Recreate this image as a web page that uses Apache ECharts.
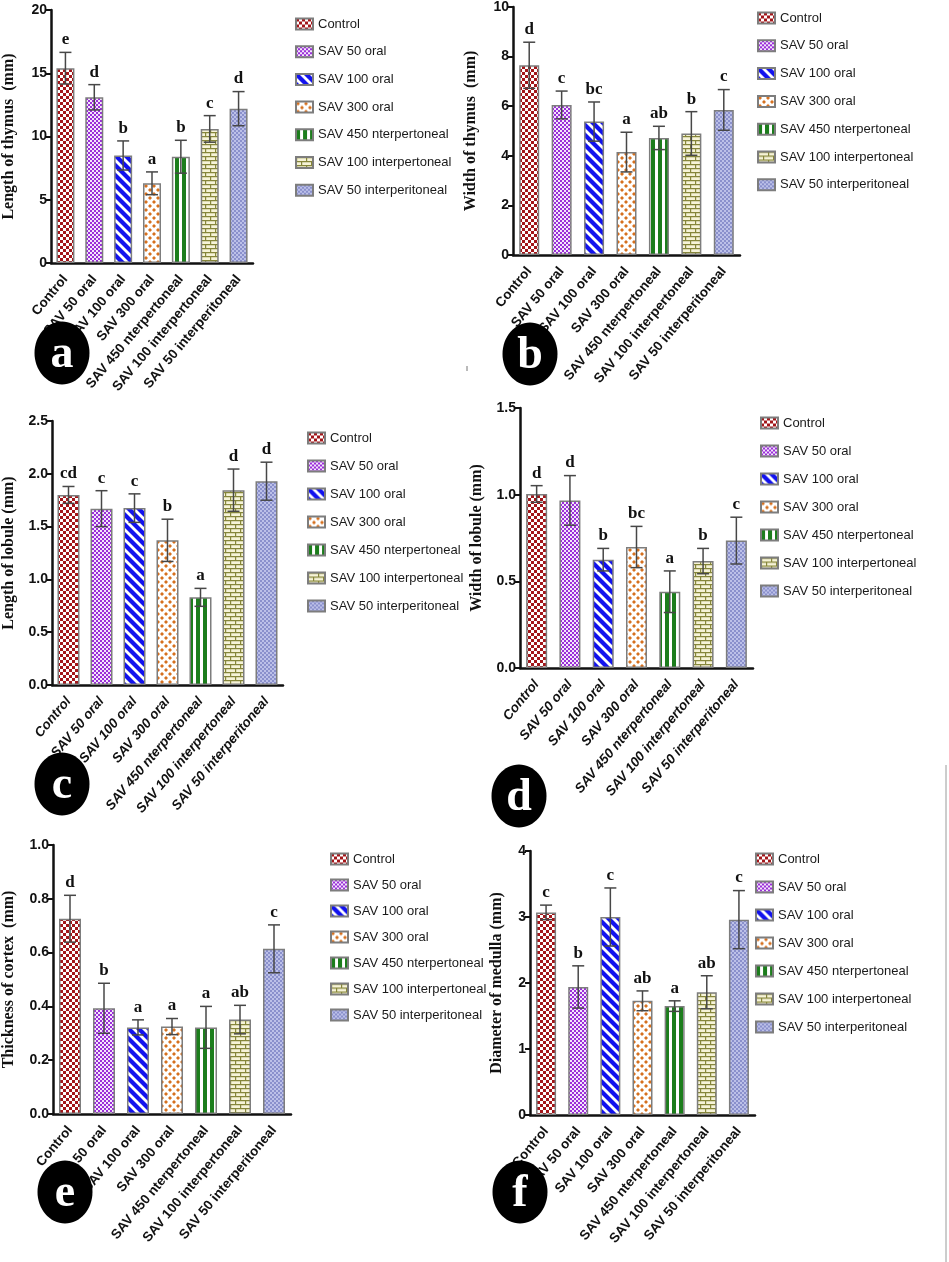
<!DOCTYPE html>
<html><head><meta charset="utf-8">
<script src="https://cdn.jsdelivr.net/npm/echarts@6/dist/echarts.min.js"></script>
<style>html,body{margin:0;padding:0;background:#fff}#c{width:949px;height:1262px}</style>
</head><body><div id="c"></div>
<script>
// ---------- DATA ----------
const groups = ['Control','SAV 50 oral','SAV 100 oral','SAV 300 oral','SAV 450 nterpertoneal','SAV 100 interpertoneal','SAV 50 interperitoneal'];

const lengthThymus        = [15.4, 13.1, 8.5, 6.3, 8.4, 10.6, 12.2];
const lengthThymusErr     = [1.25, 1.0, 1.15, 0.9, 1.3, 1.05, 1.35];
const lengthThymusLetters = ['e','d','b','a','b','c','d'];
const lengthThymusTicks   = [0, 5, 10, 15, 20];

const widthThymus        = [7.65, 6.05, 5.38, 4.15, 4.72, 4.9, 5.85];
const widthThymusErr     = [0.93, 0.56, 0.79, 0.8, 0.47, 0.88, 0.82];
const widthThymusLetters = ['d','c','bc','a','ab','b','c'];
const widthThymusTicks   = [0, 2, 4, 6, 8, 10];

const lengthLobule        = [1.80, 1.67, 1.675, 1.37, 0.83, 1.845, 1.93];
const lengthLobuleErr     = [0.08, 0.17, 0.135, 0.2, 0.085, 0.2, 0.18];
const lengthLobuleLetters = ['cd','c','c','b','a','d','d'];
const lengthLobuleTicks   = [0.0, 0.5, 1.0, 1.5, 2.0, 2.5];

const widthLobule        = [1.004, 0.967, 0.625, 0.698, 0.44, 0.617, 0.735];
const widthLobuleErr     = [0.048, 0.143, 0.065, 0.119, 0.12, 0.073, 0.135];
const widthLobuleLetters = ['d','d','b','bc','a','b','c'];
const widthLobuleTicks   = [0.0, 0.5, 1.0, 1.5];

const cortex        = [0.726, 0.393, 0.322, 0.325, 0.322, 0.351, 0.614];
const cortexErr     = [0.087, 0.093, 0.028, 0.03, 0.078, 0.053, 0.089];
const cortexLetters = ['d','b','a','a','a','ab','c'];
const cortexTicks   = [0.0, 0.2, 0.4, 0.6, 0.8, 1.0];

const medulla        = [3.07, 1.94, 3.0, 1.73, 1.65, 1.86, 2.96];
const medullaErr     = [0.11, 0.32, 0.44, 0.15, 0.08, 0.25, 0.44];
const medullaLetters = ['c','b','c','ab','a','ab','c'];
const medullaTicks   = [0, 1, 2, 3, 4];

// ---------- PATTERNS ----------
function tile(w, h, draw) {
  const c = document.createElement('canvas'); c.width = w; c.height = h;
  const g = c.getContext('2d'); draw(g, w, h); return c;
}
const patterns = [
  tile(6, 6, g => { g.fillStyle = '#fff'; g.fillRect(0,0,6,6); g.fillStyle = '#a3161a'; g.fillRect(0,0,3,3); g.fillRect(3,3,3,3); }),
  tile(4, 4, g => { g.fillStyle = '#f4e6fb'; g.fillRect(0,0,4,4); g.fillStyle = '#9a2fd8'; g.fillRect(0,0,2,2); g.fillRect(2,2,2,2); }),
  tile(10, 10, g => { g.fillStyle = '#fff'; g.fillRect(0,0,10,10); g.strokeStyle = '#1212ee'; g.lineWidth = 4.2;
    for (const o of [-10, 0, 10]) { g.beginPath(); g.moveTo(o - 2, -2); g.lineTo(o + 12, 12); g.stroke(); } }),
  tile(8, 8, g => { g.fillStyle = '#fff'; g.fillRect(0,0,8,8); g.fillStyle = '#d6701e';
    const d = (x, y, r) => { g.beginPath(); g.moveTo(x, y - r); g.lineTo(x + r, y); g.lineTo(x, y + r); g.lineTo(x - r, y); g.closePath(); g.fill(); };
    d(2, 2, 2); d(6, 6, 2); }),
  tile(7, 2, g => { g.fillStyle = '#fff'; g.fillRect(0,0,7,2); g.fillStyle = '#1c7d1c'; g.fillRect(0,0,4,2); }),
  tile(10, 8, g => { g.fillStyle = '#f6f3d8'; g.fillRect(0,0,10,8); g.strokeStyle = '#86863a'; g.lineWidth = 1.2;
    g.beginPath(); g.moveTo(0,0.6); g.lineTo(10,0.6); g.moveTo(0,4.6); g.lineTo(10,4.6);
    g.moveTo(0.6,0.6); g.lineTo(0.6,4.6); g.moveTo(5.6,4.6); g.lineTo(5.6,8); g.stroke(); }),
  tile(4, 4, g => { g.fillStyle = '#bcc0e8'; g.fillRect(0,0,4,4); g.fillStyle = '#8a90cc'; g.fillRect(0,0,2,2); g.fillRect(2,2,2,2); })
];

// ---------- PANELS (layout) ----------
const panels = [
  { means: lengthThymus, errs: lengthThymusErr, letters: lengthThymusLetters, ticks: lengthThymusTicks, dec: 0,
    title: 'Length of thymus  (mm)', grid: {left: 43, top: 10, width: 210, height: 253}, bw: 18, nameGap: 34,
    legend: {left: 290, top: 11, gap: 11.7}, italic: false, tag: 'a', circle: [62, 353] },
  { means: widthThymus, errs: widthThymusErr, letters: widthThymusLetters, ticks: widthThymusTicks, dec: 0,
    title: 'Width of thymus  (mm)', grid: {left: 513, top: 6, width: 227, height: 249}, bw: 20, nameGap: 34,
    legend: {left: 752, top: 5, gap: 11.8}, italic: false, tag: 'b', circle: [530, 354] },
  { means: lengthLobule, errs: lengthLobuleErr, letters: lengthLobuleLetters, ticks: lengthLobuleTicks, dec: 1,
    title: 'Length of lobule (mm)', grid: {left: 43, top: 421, width: 240, height: 264}, bw: 22, nameGap: 35,
    legend: {left: 302, top: 425, gap: 12}, italic: true, tag: 'c', circle: [62, 784] },
  { means: widthLobule, errs: widthLobuleErr, letters: widthLobuleLetters, ticks: widthLobuleTicks, dec: 1,
    title: 'Width of lobule (mm)', grid: {left: 520, top: 408, width: 233, height: 260}, bw: 21, nameGap: 35,
    legend: {left: 755, top: 410, gap: 12}, italic: true, tag: 'd', circle: [519, 796] },
  { means: cortex, errs: cortexErr, letters: cortexLetters, ticks: cortexTicks, dec: 1,
    title: 'Thickness of cortex  (mm)', grid: {left: 45, top: 845, width: 246, height: 269}, bw: 22, nameGap: 36,
    legend: {left: 325, top: 846, gap: 10}, italic: false, tag: 'e', circle: [65, 1192] },
  { means: medulla, errs: medullaErr, letters: medullaLetters, ticks: medullaTicks, dec: 0,
    title: 'Diameter of medulla (mm)', grid: {left: 530, top: 851, width: 225, height: 264}, bw: 20, nameGap: 25,
    legend: {left: 750, top: 846, gap: 12}, italic: false, tag: 'f', circle: [520, 1192] }
];

const SANS = '"Liberation Sans", Arial, sans-serif';
const SERIF = '"Liberation Serif", "Times New Roman", serif';

const grid = [], xAxis = [], yAxis = [], series = [], legend = [], graphic = [];
panels.forEach((p, k) => {
  grid.push(Object.assign({containLabel: false}, p.grid));
  xAxis.push({
    type: 'category', gridIndex: k, data: groups,
    axisLine: {lineStyle: {color: '#111', width: 2.5}},
    axisTick: {alignWithLabel: true, length: 7, lineStyle: {color: '#111', width: 2}},
    axisLabel: {rotate: 50, interval: 0, margin: 14, fontSize: 13.5, fontWeight: 'bold', fontFamily: SANS,
      fontStyle: p.italic ? 'italic' : 'normal', color: '#111'}
  });
  const step = p.ticks[1] - p.ticks[0];
  yAxis.push({
    type: 'value', gridIndex: k, min: p.ticks[0], max: p.ticks[p.ticks.length - 1], interval: step,
    name: p.title, nameLocation: 'middle', nameGap: p.nameGap,
    nameTextStyle: {fontFamily: SERIF, fontWeight: 'bold', fontSize: 16, color: '#111'},
    axisLine: {show: true, lineStyle: {color: '#111', width: 2.5}},
    axisTick: {show: true, length: 5, lineStyle: {color: '#111', width: 2}},
    splitLine: {show: false},
    axisLabel: {fontFamily: SANS, fontWeight: 'bold', fontSize: 14, color: '#111', margin: 4,
      formatter: v => Number(v).toFixed(p.dec)}
  });
  groups.forEach((g, i) => {
    series.push({
      type: 'bar', name: g, xAxisIndex: k, yAxisIndex: k, barWidth: p.bw, barGap: '-100%',
      itemStyle: {color: {image: patterns[i], repeat: 'repeat'}, borderColor: '#7d7d7d', borderWidth: 1.5},
      emphasis: {disabled: true},
      data: p.means.map((v, j) => j === i ? v : '-')
    });
  });
  series.push({
    type: 'custom', xAxisIndex: k, yAxisIndex: k, z: 10, clip: false, silent: true,
    data: p.means.map((m, i) => [i, m, p.errs[i]]),
    encode: {x: 0, y: 1},
    renderItem: (params, api) => {
      const i = api.value(0), m = api.value(1), e = api.value(2);
      const t = api.coord([i, m + e]), b = api.coord([i, m - e]);
      const hw = 6, st = {stroke: '#474747', lineWidth: 1.5};
      return {type: 'group', children: [
        {type: 'line', shape: {x1: t[0], y1: t[1], x2: b[0], y2: b[1]}, style: st},
        {type: 'line', shape: {x1: t[0] - hw, y1: t[1], x2: t[0] + hw, y2: t[1]}, style: st},
        {type: 'line', shape: {x1: b[0] - hw, y1: b[1], x2: b[0] + hw, y2: b[1]}, style: st},
        {type: 'text', x: t[0], y: t[1] - 4, style: {text: p.letters[params.dataIndex], align: 'center',
          verticalAlign: 'bottom', fontFamily: SERIF, fontWeight: 'bold', fontSize: 17, fill: '#111'}}
      ]};
    }
  });
  legend.push({
    orient: 'vertical', left: p.legend.left, top: p.legend.top, itemGap: p.legend.gap,
    itemWidth: 17, itemHeight: 11, icon: 'rect', selectedMode: false, data: groups,
    textStyle: {fontFamily: SANS, fontSize: 13, color: '#1a1a1a', lineHeight: 16}
  });
  graphic.push({type: 'ellipse', shape: {cx: p.circle[0], cy: p.circle[1], rx: 27.5, ry: 31.5}, style: {fill: '#000'}, z: 100});
  graphic.push({type: 'text', x: p.circle[0], y: p.circle[1] + 2, z: 101,
    style: {text: p.tag, align: 'center', verticalAlign: 'middle', fontFamily: SERIF, fontWeight: 'bold', fontSize: 46, fill: '#fff'}});
});
graphic.push({type: 'line', shape: {x1: 946, y1: 765, x2: 946, y2: 1262}, style: {stroke: '#9a9a9a', lineWidth: 1}});
graphic.push({type: 'line', shape: {x1: 467, y1: 366, x2: 467, y2: 371}, style: {stroke: '#777', lineWidth: 1}});

const chart = echarts.init(document.getElementById('c'), null, {renderer: 'canvas'});
chart.setOption({animation: false, backgroundColor: '#fff', grid, xAxis, yAxis, series, legend, graphic});
</script></body></html>
